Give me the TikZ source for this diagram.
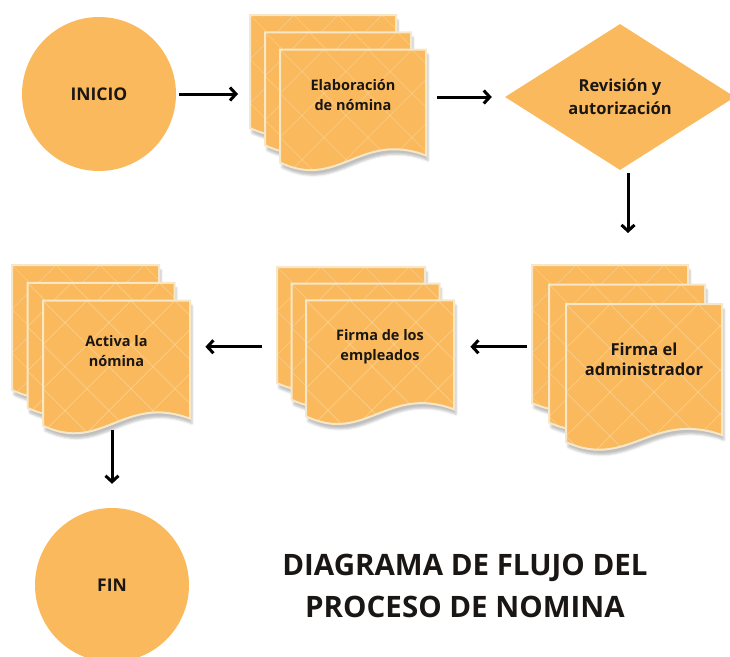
\documentclass[tikz,border=0pt]{standalone}
\usepackage{fontspec}
\setmainfont{Open Sans}
\usepackage{xcolor}
\usepackage{tikz}
\usetikzlibrary{arrows.meta,positioning,shapes.geometric,shadows.blur}

\definecolor{naranja}{HTML}{F9B95C}
\definecolor{crema}{HTML}{F6E7C9}
\definecolor{tinta}{HTML}{1A1614}

% una hoja con borde ondulado: x, y (arriba izq.), ancho, alto
\newcommand{\hoja}[4]{%
  \path[hoja] (#1,#2) -- ({#1+#3},#2) -- ({#1+#3},{#2+#4-7})
    .. controls ({#1+0.55*#3},{#2+#4-32}) and ({#1+0.4*#3},{#2+#4+28}) .. (#1,{#2+#4}) -- cycle;}

% pila de tres hojas: [tam. letra] nombre, x, y, ancho, alto, paso, texto
\newcommand{\pila}[8][14.5]{%
  \hoja{#3}{#4}{#5}{#6}
  \hoja{#3+#7}{#4+1.15*#7}{#5}{#6}
  \hoja{#3+2*#7}{#4+2.3*#7}{#5}{#6}
  \node[caja, minimum width={#5+2*#7}, minimum height={#6+2.3*#7}, anchor=north west] (#2) at (#3,#4) {};
  \node[texto, font=\bfseries\fontsize{#1}{20}\selectfont] (#2-t) at ({#3+2*#7+0.5*#5},{#4+2.3*#7+0.4*#6}) {#8};
}

\begin{document}
\begin{tikzpicture}[x=1pt, y=-1pt,
    hoja/.style={fill=naranja, draw=crema, line width=2pt,
      blur shadow={shadow xshift=2pt, shadow yshift=-5pt, shadow opacity=25},
      path picture={
        \foreach \k in {-220,-176,...,440}{
          \draw[rejilla] ([xshift=\k pt]path picture bounding box.north west) -- ++(200,200);
          \draw[rejilla] ([xshift=\k pt]path picture bounding box.north west) -- ++(-200,200);
        }}},
    rejilla/.style={white, opacity=0.3, line width=0.6pt},
    caja/.style={inner sep=0pt},
    texto/.style={align=center, text=tinta},
    circulo/.style={circle, fill=naranja, minimum size=154pt, inner sep=0pt, text=tinta,
      font=\bfseries\fontsize{17.5}{20}\selectfont},
    rombo/.style={diamond, fill=naranja, minimum width=230pt, minimum height=146pt, inner sep=0pt,
      align=center, text=tinta, font=\bfseries\fontsize{16.5}{23}\selectfont},
    flecha/.style={line width=3pt, -{Straight Barb[length=6pt, width=13pt]}}]
  \useasboundingbox (0,0) rectangle (730,656);

  \node[circulo] (inicio) at (99,94) {INICIO};
  \pila{elab}{250}{15}{146}{113}{15}{Elaboración\\de nómina}
  \node[rombo] (rev) at (620,97) {Revisión y\\autorización};

  \pila[16.5]{admin}{532}{265}{156}{138}{17}{Firma el\\administrador}
  \pila{emple}{277}{267}{148}{116}{14.5}{Firma de los\\empleados}
  \pila{activa}{12}{265}{147}{125}{15.5}{Activa la\\nómina}

  \node[circulo] (fin) at (112,585) {FIN};
  \node[align=center, text=tinta, font=\bfseries\fontsize{29.5}{42}\selectfont] (titulo) at (465,586)
    {DIAGRAMA DE FLUJO DEL\\PROCESO DE NOMINA};

  \draw[flecha, shorten <=3pt, shorten >=12pt] (inicio.east) -- (inicio.east -| elab.west);
  \draw[flecha, shorten <=11pt, shorten >=13pt] (elab.east |- rev.west) -- (rev.west);
  \draw[flecha, shorten <=3pt, shorten >=32pt] ([xshift=8pt]rev.south) -- ([xshift=8pt]rev.south |- admin.north);
  \draw[flecha, shorten <=5pt, shorten >=16pt] (admin.west |- emple-t) -- (emple-t -| emple.east);
  \draw[flecha, shorten <=15pt, shorten >=15pt] (emple.west |- emple-t) -- (emple-t -| activa.east);
  \draw[flecha, shorten <=4pt, shorten >=24pt] (fin.north |- activa.south) -- (fin.north);
\end{tikzpicture}
\end{document}
